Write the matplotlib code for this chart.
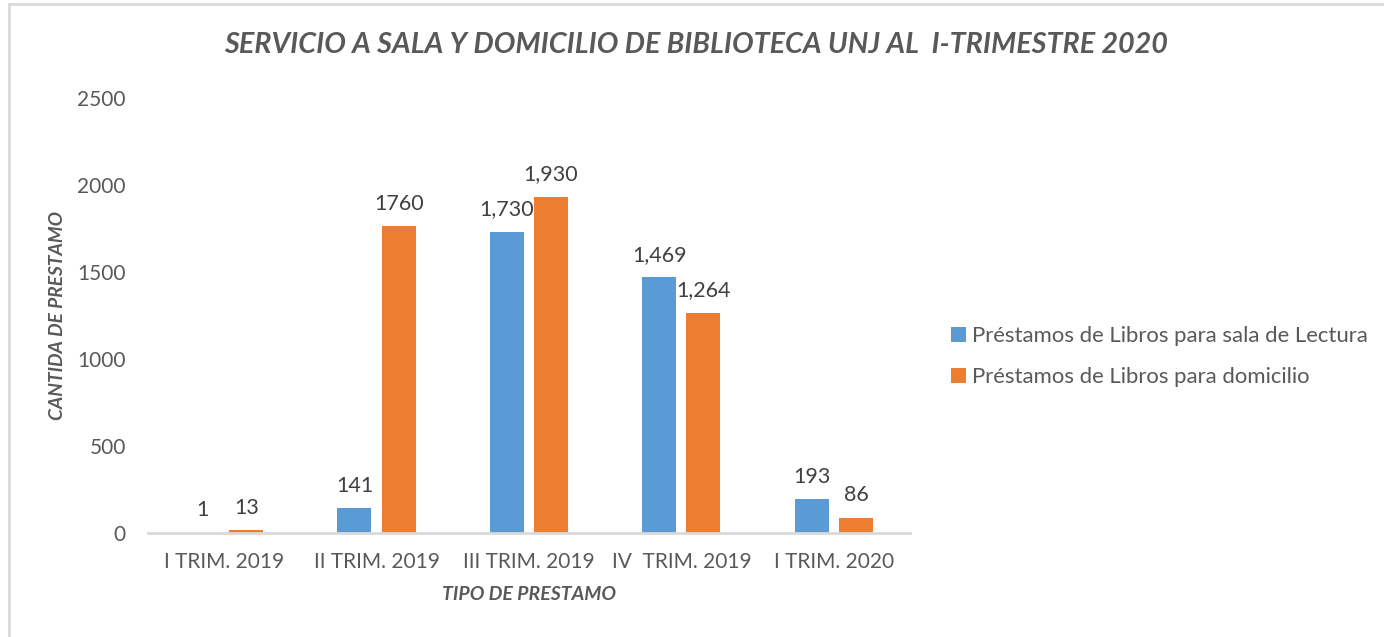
import matplotlib
matplotlib.use("Agg")
import matplotlib.pyplot as plt
from matplotlib.patches import Rectangle
import numpy as np

# data
quarters = ["I TRIM. 2019", "II TRIM. 2019", "III TRIM. 2019", "IV  TRIM. 2019", "I TRIM. 2020"]
sala = [1, 141, 1730, 1469, 193]
domicilio = [13, 1760, 1930, 1264, 86]
sala_labels = ["1", "141", "1,730", "1,469", "193"]
domicilio_labels = ["13", "1760", "1,930", "1,264", "86"]
series_names = ["Préstamos de Libros para sala de Lectura", "Préstamos de Libros para domicilio"]

BLUE = "#5B9BD5"
ORANGE = "#ED7D31"
TEXT = "#595959"

plt.rcParams["font.family"] = ["Lato", "DejaVu Sans"]

fig = plt.figure(figsize=(13.84, 6.37), dpi=100)
ax = fig.add_axes([0.1069, 0.1637, 0.5506, 0.6829])

x = np.arange(len(quarters))
w = 0.223
off = 0.145
b1 = ax.bar(x - off, sala, w, color=BLUE, label=series_names[0])
b2 = ax.bar(x + off, domicilio, w, color=ORANGE, label=series_names[1])

for bars, labels in ((b1, sala_labels), (b2, domicilio_labels)):
    for rect, lab in zip(bars, labels):
        ax.annotate(lab, (rect.get_x() + rect.get_width() / 2, rect.get_height()),
                    xytext=(0, 9), textcoords="offset points", ha="center", va="bottom",
                    fontsize=15.5, color="#404040")

ax.set_xlim(-0.5, len(quarters) - 0.5)
ax.set_ylim(0, 2500)
ax.set_yticks(range(0, 2501, 500))
ax.set_xticks(x)
ax.set_xticklabels(quarters)
ax.tick_params(axis="both", length=0, labelsize=15, colors=TEXT)
ax.tick_params(axis="x", pad=14)
ax.tick_params(axis="y", pad=16)

for s in ("top", "right", "left"):
    ax.spines[s].set_visible(False)
ax.spines["bottom"].set_color("#d9d9d9")
ax.spines["bottom"].set_linewidth(2)

ax.set_xlabel("TIPO DE PRESTAMO", fontsize=14, fontweight="bold", fontstyle="italic",
              color=TEXT, labelpad=10)
ax.set_ylabel("CANTIDA DE PRESTAMO", fontsize=13.8, fontweight="bold", fontstyle="italic",
              color=TEXT, labelpad=8)

fig.text(0.503, 0.929, "SERVICIO A SALA Y DOMICILIO DE BIBLIOTECA UNJ AL  I-TRIMESTRE 2020",
         ha="center", va="center", fontsize=20.7, fontweight="bold", fontstyle="italic",
         color=TEXT)

ax.legend(loc="center left", bbox_to_anchor=(0.673, 0.440), bbox_transform=fig.transFigure,
          frameon=False, fontsize=15.9, labelcolor=TEXT, handlelength=0.65, handleheight=0.65,
          handletextpad=0.3, labelspacing=0.95)

# light chart border (only left and top edges are inside the picture)
fig.patches.append(Rectangle((9 / 1384, -0.2), 1.2, 1 - 4 / 637 + 0.2,
                             transform=fig.transFigure, fill=False,
                             edgecolor="#d9d9d9", linewidth=2))

fig.savefig("out.png", dpi=100, facecolor="white")
